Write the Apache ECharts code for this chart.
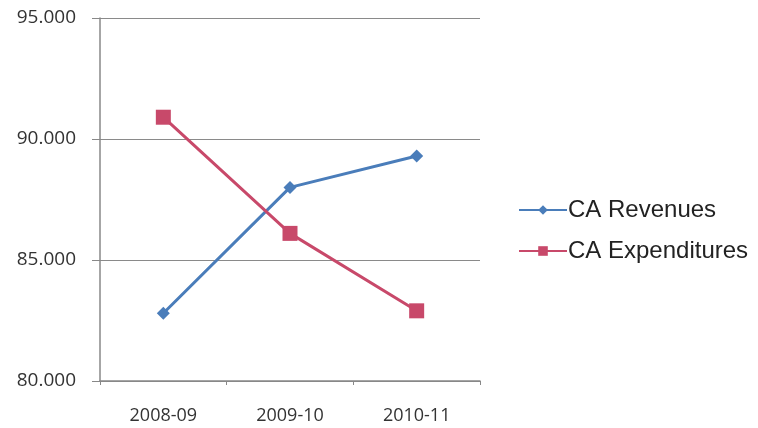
<!DOCTYPE html>
<html>
<head>
<meta charset="utf-8">
<script src="https://cdn.jsdelivr.net/npm/echarts@6/dist/echarts.min.js"></script>
<style>
  html, body { margin: 0; padding: 0; background: #fff; }
  #chart { width: 758px; height: 428px; }
</style>
</head>
<body>
<div id="chart"></div>
<script>
// data
const years = ["2008-09", "2009-10", "2010-11"];
const revenues = [82.8, 88.0, 89.3];
const expenditures = [90.9, 86.1, 82.9];
const yTicks = { min: 80, max: 95, step: 5 };

const chart = echarts.init(document.getElementById("chart"));
const option = {
  animation: false,
  grid: { left: 100, right: 278, top: 18, bottom: 47 },
  legend: {
    orient: "vertical",
    left: 513,
    top: 193,
    itemWidth: 48,
    itemHeight: 12,
    itemGap: 17,
    textStyle: { fontFamily: "Liberation Sans", fontSize: 24, color: "#222", padding: [0, 0, 0, -4] },
    data: ["CA Revenues", "CA Expenditures"]
  },
  xAxis: {
    type: "category",
    data: years,
    boundaryGap: true,
    axisLine: { lineStyle: { color: "#888", width: 1.5 } },
    axisTick: { show: true, length: 4, lineStyle: { color: "#888" } },
    axisLabel: { fontFamily: "Open Sans", fontSize: 18, color: "#333", margin: 26 }
  },
  yAxis: {
    type: "value",
    min: yTicks.min,
    max: yTicks.max,
    interval: yTicks.step,
    axisLine: { show: true, lineStyle: { color: "#888", width: 1.5 } },
    axisTick: { show: true, length: 8, lineStyle: { color: "#888" } },
    axisLabel: {
      fontFamily: "Open Sans", fontSize: 19, color: "#333", margin: 24,
      formatter: v => v.toFixed(3)
    },
    splitLine: { lineStyle: { color: "#8a8a8a", width: 1.2 } }
  },
  series: [
    {
      name: "CA Revenues",
      type: "line",
      data: revenues,
      symbol: "diamond",
      symbolSize: 13,
      lineStyle: { color: "#4a7dba", width: 3 },
      itemStyle: { color: "#4a7dba" }
    },
    {
      name: "CA Expenditures",
      type: "line",
      data: expenditures,
      symbol: "rect",
      symbolSize: 15,
      lineStyle: { color: "#c8496a", width: 3 },
      itemStyle: { color: "#c8496a" }
    }
  ]
};
chart.setOption(option);
</script>
</body>
</html>
